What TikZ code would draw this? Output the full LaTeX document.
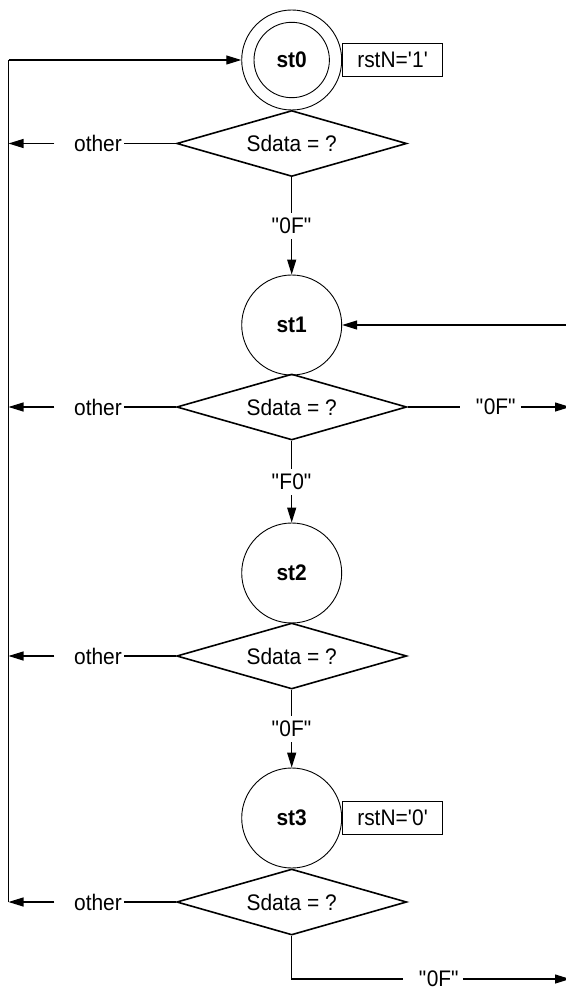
\documentclass[tikz,border=0pt]{standalone}
\usepackage{fontspec}
\setmainfont{Liberation Sans}[FakeStretch=0.93]
\usetikzlibrary{shapes.geometric,arrows.meta}
\newcommand{\qd}{\textquotedbl}
\begin{document}
\begin{tikzpicture}[x=1pt,y=-1pt,
  font=\fontsize{22.5}{25}\selectfont,
  state/.style={circle,draw,line width=0.9pt,minimum size=100pt,inner sep=0pt,
    font=\fontsize{22.5}{25}\selectfont\bfseries},
  test/.style={diamond,draw,line width=1.6pt,aspect=3.5,minimum width=230pt,
    minimum height=66pt,inner sep=0pt},
  outbox/.style={rectangle,draw,line width=1.1pt,minimum width=100pt,
    minimum height=33pt,inner sep=0pt,anchor=west},
  lbl/.style={inner xsep=1.5pt,inner ysep=5pt,fill=white},
  link/.style={line width=1.1pt},
  spine/.style={line width=1.8pt},
  arr/.style={link,-{Triangle[length=15pt,width=9pt]}},
]
\useasboundingbox (0,0) rectangle (565,992);

% states and tests down the middle column
\node[state] (s0) at (291.7,60) {st0};
\draw[line width=0.9pt] (s0.center) circle[radius=37.7];
\node[outbox] (r0) at (s0.east) {rstN=\textquotesingle1\textquotesingle};
\node[test] (d0) at (291.7,143.5) {Sdata = ?};

\node[state] (s1) at (291.7,325) {st1};
\node[test] (d1) at (291.7,407) {Sdata = ?};

\node[state] (s2) at (291.7,573) {st2};
\node[test] (d2) at (291.7,656) {Sdata = ?};

\node[state] (s3) at (291.7,818) {st3};
\node[outbox] (r3) at (s3.east) {rstN=\textquotesingle0\textquotesingle};
\node[test] (d3) at (291.7,902) {Sdata = ?};

% forward transitions
\draw[arr] (d0.south) -- node[lbl] {\qd0F\qd} (s1.north);
\draw[arr] (d1.south) -- node[lbl] {\qd F0\qd} (s2.north);
\draw[arr] (d2.south) -- node[lbl] {\qd0F\qd} (s3.north);

% return path on the left back to st0
\coordinate (Ltop) at (8.5,60);
\coordinate (L0) at (8.5,143.5);
\coordinate (L1) at (8.5,407);
\coordinate (L2) at (8.5,656);
\coordinate (L3) at (8.5,902);
\draw[spine] (L3) -- (Ltop);
\draw[arr] (Ltop) -- (s0.west);

\foreach \d/\l/\y in {d0/L0/143.5,d1/L1/407,d2/L2/656,d3/L3/902}{
  \node[inner xsep=1.5pt,inner ysep=0pt] (o\d) at (98,\y) {other};
  \draw[link] (\d.west) -- (o\d.east);
  \draw[arr] ([xshift=-18pt]o\d.west) -- (\l);
}

% re-entry into st1 from the right
\coordinate (E0) at (570,325);
\draw[arr] (E0) -- (s1.east);

% exit from the second test
\node[inner xsep=1.5pt,inner ysep=0pt] (x1) at (496,407) {\qd0F\qd};
\coordinate (E1) at (570,407);
\draw[link] (d1.east) -- ([xshift=-14pt]x1.west);
\draw[arr] ([xshift=3pt]x1.east) -- (E1);

% exit from the last test
\coordinate (B) at (291.7,979);
\node[inner xsep=1.5pt,inner ysep=0pt] (x3) at (439,979) {\qd0F\qd};
\coordinate (E3) at (570,979);
\draw[link] (d3.south) -- (B) -- ([xshift=-14pt]x3.west);
\draw[arr] ([xshift=2pt]x3.east) -- (E3);
\end{tikzpicture}
\end{document}
